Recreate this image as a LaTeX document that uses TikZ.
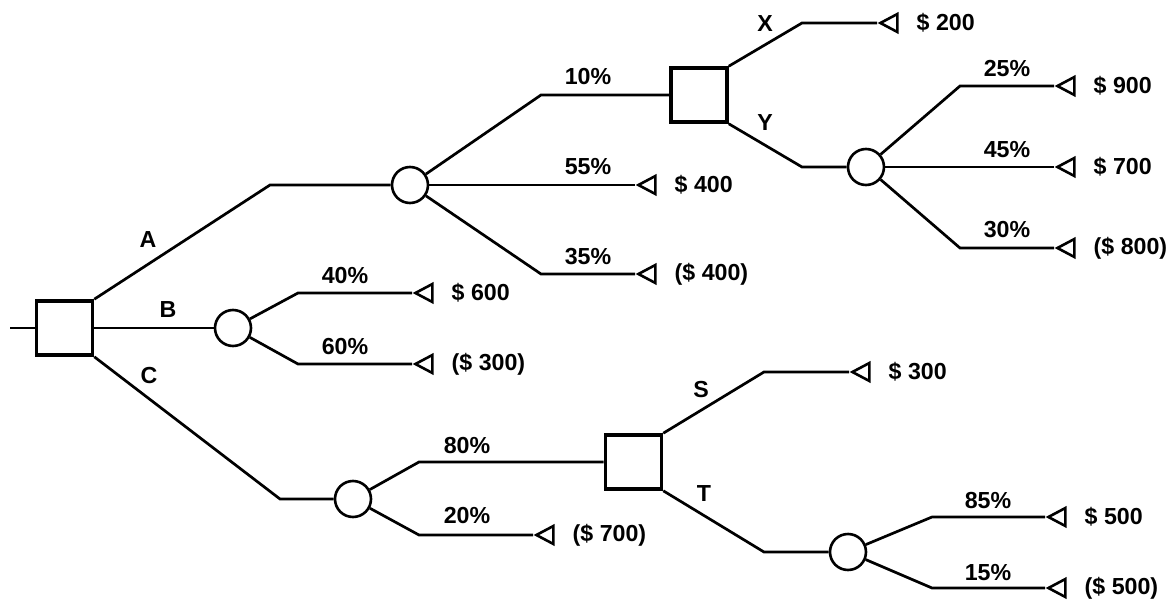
\documentclass[tikz,border=0pt]{standalone}
\usepackage{fontspec}
\setmainfont{Liberation Sans}
\usetikzlibrary{shapes.geometric}
\begin{document}
\begin{tikzpicture}[x=0.5pt, y=-0.5pt, line width=1.35pt,
  every node/.style={font=\fontsize{11.6pt}{13pt}\selectfont\bfseries}]
\tikzstyle{mydec} = [draw, rectangle, line width=1.8pt, minimum width=28pt, minimum height=27pt, inner sep=0pt] % узел решения
\tikzstyle{mychance} = [draw, circle, line width=1.3pt, minimum size=18pt, inner sep=0pt] % узел случая
\tikzstyle{myend} = [draw, isosceles triangle, shape border rotate=180, isosceles triangle stretches, line width=1.3pt, minimum width=9pt, minimum height=8.5pt, inner sep=0pt, anchor=apex] % конечный узел
\tikzstyle{mypay} = [label distance=5pt] % выигрыш справа от треугольника
\useasboundingbox (0,0) rectangle (1174,600);
% узлы
\node[mydec] (r) at (64.5,328) {};
\node[mychance] (ca) at (410,185) {};
\node[mychance] (cb) at (233,328) {};
\node[mychance] (cc) at (353,499) {};
\node[mydec] (dx) at (699,95) {};
\node[mychance] (cy) at (866,167) {};
\node[mydec] (ds) at (633.5,462) {};
\node[mychance] (ct) at (848,552) {};
% концы ветвей
\node[myend, label={[mypay]right:{\$ 400}}] (e1) at (635,185) {};
\node[myend, label={[mypay]right:{(\$ 400)}}] (e2) at (635,274) {};
\node[myend, label={[mypay]right:{\$ 200}}] (e3) at (877,23) {};
\node[myend, label={[mypay]right:{\$ 900}}] (e4) at (1054,86) {};
\node[myend, label={[mypay]right:{\$ 700}}] (e5) at (1054,167) {};
\node[myend, label={[mypay]right:{(\$ 800)}}] (e6) at (1054,248) {};
\node[myend, label={[mypay]right:{\$ 600}}] (e7) at (412,293) {};
\node[myend, label={[mypay]right:{(\$ 300)}}] (e8) at (412,364) {};
\node[myend, label={[mypay]right:{(\$ 700)}}] (e9) at (533,535) {};
\node[myend, label={[mypay]right:{\$ 300}}] (e10) at (849,372) {};
\node[myend, label={[mypay]right:{\$ 500}}] (e11) at (1045,517) {};
\node[myend, label={[mypay]right:{(\$ 500)}}] (e12) at (1045,588) {};
% ветви
\coordinate (in) at (10,328);
\draw (in) -- (r.west);
\draw (r.north east) -- (270,185) -- (ca);
\draw (r.east) -- (cb);
\draw (r.south east) -- (280,499) -- (cc);
\draw (ca) -- (541,95) -- (dx);
\draw (ca) -- (e1);
\draw (ca) -- (541,274) -- (e2);
\draw (dx.north east) -- (802,23) -- (e3);
\draw (dx.south east) -- (802,167) -- (cy);
\draw (cy) -- (960,86) -- (e4);
\draw (cy) -- (e5);
\draw (cy) -- (960,248) -- (e6);
\draw (cb) -- (298,293) -- (e7);
\draw (cb) -- (298,364) -- (e8);
\draw (cc) -- (419,462) -- (ds);
\draw (cc) -- (419,535) -- (e9);
\draw (ds.north east) -- (764,372) -- (e10);
\draw (ds.south east) -- (764,552) -- (ct);
\draw (ct) -- (932,517) -- (e11);
\draw (ct) -- (932,588) -- (e12);
% пометки
\node (la) at (148,240) {A};
\node (lb) at (168,310) {B};
\node (lc) at (149,376) {C};
\node (lx) at (765,24) {X};
\node (ly) at (765,123) {Y};
\node (ls) at (701,390) {S};
\node (lt) at (704,494) {T};
\node (p1) at (588,77) {10\%};
\node (p2) at (588,167) {55\%};
\node (p3) at (588,257) {35\%};
\node (p4) at (1007,69) {25\%};
\node (p5) at (1007,150) {45\%};
\node (p6) at (1007,230) {30\%};
\node (p7) at (345,276) {40\%};
\node (p8) at (345,347) {60\%};
\node (p9) at (467,446) {80\%};
\node (p10) at (467,516) {20\%};
\node (p11) at (988,501) {85\%};
\node (p12) at (988,573) {15\%};
\end{tikzpicture}
\end{document}
